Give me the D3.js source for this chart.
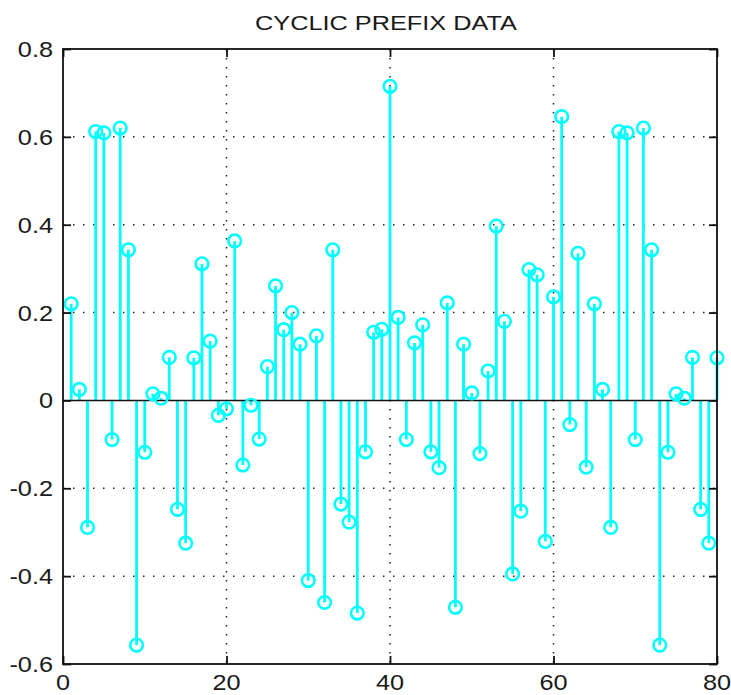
<!DOCTYPE html>
<html>
<head>
<meta charset="utf-8">
<script src="https://cdn.jsdelivr.net/npm/d3@7"></script>
<style>
  html, body { margin: 0; padding: 0; background: #fff; }
  svg { display: block; }
</style>
</head>
<body>
<svg id="chart" width="731" height="695"></svg>
<script>
// ---- data ----
const title = "CYCLIC PREFIX DATA";
const sampleIndex = d3.range(1, 81);
const sampleValues = [
  0.220, 0.025, -0.289, 0.612, 0.609, -0.089, 0.620, 0.343, -0.557, -0.118,
  0.015, 0.005, 0.098, -0.248, -0.325, 0.097, 0.311, 0.135, -0.034, -0.019,
  0.363, -0.147, -0.011, -0.088, 0.077, 0.261, 0.161, 0.200, 0.128, -0.410,
  0.147, -0.460, 0.343, -0.236, -0.277, -0.484, -0.117, 0.155, 0.162, 0.715,
  0.189, -0.089, 0.131, 0.172, -0.117, -0.153, 0.222, -0.471, 0.128, 0.017,
  -0.121, 0.067, 0.397, 0.180, -0.395, -0.252, 0.298, 0.286, -0.321, 0.236,
  0.646, -0.055, 0.335, -0.152, 0.220, 0.025, -0.289, 0.612, 0.609, -0.089,
  0.620, 0.343, -0.557, -0.118, 0.015, 0.005, 0.098, -0.248, -0.325, 0.097
];
const xTicks = [0, 20, 40, 60, 80];
const xTickLabels = ["0", "20", "40", "60", "80"];
const yTicks = [-0.6, -0.4, -0.2, 0, 0.2, 0.4, 0.6, 0.8];
const yTickLabels = ["-0.6", "-0.4", "-0.2", "0", "0.2", "0.4", "0.6", "0.8"];

// ---- layout ----
const L = 63, R = 717, T = 49, B = 664;
const svg = d3.select("#chart");
svg.append("rect").attr("width", 731).attr("height", 695).attr("fill", "#fff");

const x = d3.scaleLinear().domain([0, 80]).range([L, R]);
const y = d3.scaleLinear().domain([-0.6, 0.8]).range([B, T]);

const font = "'Liberation Sans', Arial, Helvetica, sans-serif";
const stretch = 1.15;

// grid (dotted)
const grid = svg.append("g");
yTicks.filter(v => v > -0.6 && v < 0.8 && v !== 0).forEach(v => {
  grid.append("line")
    .attr("x1", L).attr("x2", R).attr("y1", y(v)).attr("y2", y(v))
    .attr("stroke", "#222").attr("stroke-width", 1.5)
    .attr("stroke-dasharray", "1.5,8.5");
});
xTicks.filter(v => v > 0 && v < 80).forEach(v => {
  grid.append("line")
    .attr("x1", x(v)).attr("x2", x(v)).attr("y1", T).attr("y2", B)
    .attr("stroke", "#222").attr("stroke-width", 1.5)
    .attr("stroke-dasharray", "1.5,7.5");
});

const data = sampleIndex.map((n, i) => ({ n, v: sampleValues[i] }));

// stems
svg.append("g").selectAll("line").data(data).join("line")
  .attr("x1", d => x(d.n)).attr("x2", d => x(d.n))
  .attr("y1", y(0)).attr("y2", d => y(d.v))
  .attr("stroke", "#00FFFF").attr("stroke-width", 2.8);

// baseline
svg.append("line")
  .attr("x1", L).attr("x2", R).attr("y1", y(0)).attr("y2", y(0))
  .attr("stroke", "#111").attr("stroke-width", 1.6);

// markers
svg.append("g").selectAll("circle").data(data).join("circle")
  .attr("cx", d => x(d.n)).attr("cy", d => y(d.v))
  .attr("r", 6.3)
  .attr("fill", "none").attr("stroke", "#00FFFF").attr("stroke-width", 2.6);

// axes box
svg.append("rect")
  .attr("x", L).attr("y", T).attr("width", R - L).attr("height", B - T)
  .attr("fill", "none").attr("stroke", "#111").attr("stroke-width", 1.8);

// ticks (inward) via d3 axes
const tickLen = 8;
const axB = svg.append("g").attr("transform", `translate(0,${B})`)
  .call(d3.axisTop(x).tickValues(xTicks).tickSize(tickLen).tickFormat(""));
const axT = svg.append("g").attr("transform", `translate(0,${T})`)
  .call(d3.axisBottom(x).tickValues(xTicks).tickSize(tickLen).tickFormat(""));
const axL = svg.append("g").attr("transform", `translate(${L},0)`)
  .call(d3.axisRight(y).tickValues(yTicks).tickSize(tickLen).tickFormat(""));
const axR = svg.append("g").attr("transform", `translate(${R},0)`)
  .call(d3.axisLeft(y).tickValues(yTicks).tickSize(tickLen).tickFormat(""));
[axB, axT, axL, axR].forEach(g => {
  g.select(".domain").remove();
  g.selectAll("line").attr("stroke", "#111").attr("stroke-width", 1.8);
});

// tick labels
svg.append("g").selectAll("text").data(yTicks).join("text")
  .attr("transform", d => `translate(53,${y(d) + 8}) scale(${stretch},1)`)
  .attr("text-anchor", "end")
  .attr("font-family", font).attr("font-size", 22).attr("fill", "#1a1a1a")
  .text((d, i) => yTickLabels[i]);

svg.append("g").selectAll("text").data(xTicks).join("text")
  .attr("transform", d => `translate(${x(d)},690) scale(${stretch},1)`)
  .attr("text-anchor", "middle")
  .attr("font-family", font).attr("font-size", 22).attr("fill", "#1a1a1a")
  .text((d, i) => xTickLabels[i]);

// title
svg.append("text")
  .attr("x", 255).attr("y", 29.5)
  .attr("textLength", 262).attr("lengthAdjust", "spacingAndGlyphs")
  .attr("font-family", font).attr("font-size", 21).attr("fill", "#1a1a1a")
  .text(title);
</script>
</body>
</html>
